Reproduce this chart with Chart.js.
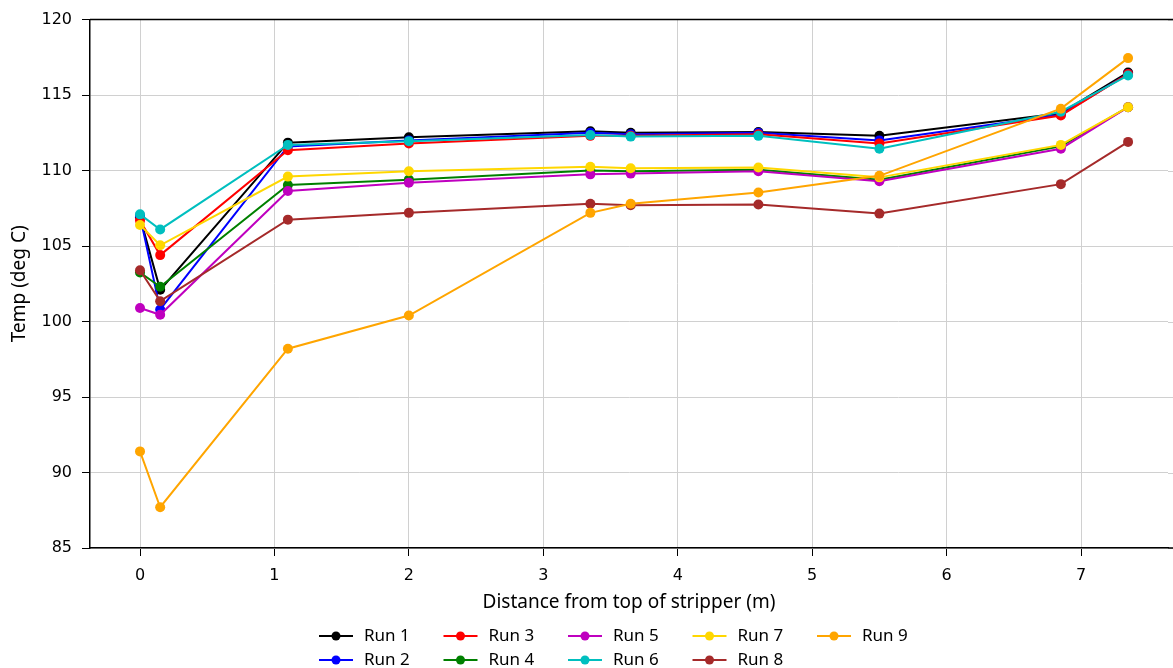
<!DOCTYPE html>
<html>
<head>
<meta charset="utf-8">
<script src="https://cdn.jsdelivr.net/npm/chart.js@4"></script>
<style>
  html, body { margin: 0; padding: 0; background: #fff; }
  #wrap { width: 1173px; height: 668px; position: relative; }
</style>
</head>
<body>
<div id="wrap"><canvas id="chart"></canvas></div>
<script>
// distance from top of stripper (m)
const distances = [0, 0.15, 1.1, 2, 3.35, 3.65, 4.6, 5.5, 6.85, 7.35];

const run1 = [106.9, 102.1, 111.85, 112.2, 112.6, 112.5, 112.55, 112.3, 113.8, 116.5];
const run2 = [107.0, 100.8, 111.6, 112.0, 112.5, 112.4, 112.5, 112.0, 113.7, 116.4];
const run3 = [106.7, 104.4, 111.35, 111.8, 112.3, 112.3, 112.4, 111.8, 113.65, 116.4];
const run4 = [103.25, 102.3, 109.05, 109.4, 110.0, 109.95, 110.05, 109.4, 111.6, 114.2];
const run5 = [100.9, 100.45, 108.65, 109.2, 109.75, 109.8, 109.95, 109.3, 111.45, 114.2];
const run6 = [107.1, 106.1, 111.7, 111.95, 112.35, 112.25, 112.3, 111.45, 113.9, 116.3];
const run7 = [106.4, 105.05, 109.6, 109.95, 110.25, 110.15, 110.2, 109.55, 111.7, 114.2];
const run8 = [103.4, 101.35, 106.75, 107.2, 107.8, 107.7, 107.75, 107.15, 109.1, 111.9];
const run9 = [91.4, 87.7, 98.2, 100.4, 107.2, 107.8, 108.55, 109.65, 114.1, 117.45];

const runNames = ["Run 1", "Run 2", "Run 3", "Run 4", "Run 5", "Run 6", "Run 7", "Run 8", "Run 9"];
const runValues = [run1, run2, run3, run4, run5, run6, run7, run8, run9];
const runColors = ["#000000", "#0000ff", "#ff0000", "#008000", "#bf00bf", "#00bfbf", "#ffd700", "#a52a2a", "#ffa500"];

const xTicks = [0, 1, 2, 3, 4, 5, 6, 7];

const datasets = runNames.map((name, i) => ({
  label: name,
  data: runValues[i].map((v, j) => ({ x: distances[j], y: v })),
  borderColor: runColors[i],
  backgroundColor: runColors[i],
  borderWidth: 2,
  pointRadius: 5,
  pointHoverRadius: 5,
  pointBorderWidth: 0,
  tension: 0,
  order: runNames.length - i
}));

// top frame line, and horizontal grid carried on to the page edge
const topBorder = {
  id: "topBorder",
  afterDatasetsDraw(chart) {
    const { ctx, chartArea } = chart;
    const y = chart.scales.y;
    ctx.save();
    ctx.strokeStyle = "#d0d0d0";
    ctx.lineWidth = 1;
    y.ticks.forEach(t => {
      const py = Math.round(y.getPixelForValue(t.value)) + 0.5;
      ctx.beginPath();
      ctx.moveTo(chartArea.right, py);
      ctx.lineTo(chart.width, py);
      ctx.stroke();
    });
    ctx.strokeStyle = "#000";
    ctx.lineWidth = 1.5;
    ctx.beginPath();
    ctx.moveTo(chartArea.left, chartArea.top);
    ctx.lineTo(chart.width, chartArea.top);
    ctx.moveTo(chartArea.right, chartArea.bottom);
    ctx.lineTo(chart.width, chartArea.bottom);
    ctx.stroke();
    ctx.restore();
  }
};

// legend laid out column by column, two rows
const columnLegend = {
  id: "columnLegend",
  afterDraw(chart) {
    const ctx = chart.ctx;
    const startX = 319, colW = 124.5, rowY = [636, 660];
    ctx.save();
    ctx.font = "17px 'Noto Sans'";
    ctx.textBaseline = "middle";
    runNames.forEach((name, i) => {
      const col = Math.floor(i / 2), row = i % 2;
      const x = startX + col * colW, y = rowY[row];
      ctx.strokeStyle = runColors[i];
      ctx.fillStyle = runColors[i];
      ctx.lineWidth = 2;
      ctx.beginPath();
      ctx.moveTo(x, y);
      ctx.lineTo(x + 34, y);
      ctx.stroke();
      ctx.beginPath();
      ctx.arc(x + 17, y, 4.5, 0, Math.PI * 2);
      ctx.fill();
      ctx.fillStyle = "#000";
      ctx.fillText(name, x + 45, y);
    });
    ctx.restore();
  }
};

new Chart(document.getElementById("chart"), {
  type: "line",
  data: { datasets },
  options: {
    responsive: true,
    maintainAspectRatio: false,
    animation: false,
    layout: { padding: { top: 18, right: 0, bottom: 54, left: 0 } },
    plugins: {
      legend: { display: false },
      tooltip: { enabled: false }
    },
    scales: {
      x: {
        type: "linear",
        min: -0.372,
        max: 7.647,
        afterBuildTicks: s => { s.ticks = xTicks.map(v => ({ value: v })); },
        afterFit: s => { s.height = 66; },
        grid: { color: "#d0d0d0", lineWidth: 1, tickColor: "#000", tickLength: 8 },
        border: { color: "#000", width: 1.5 },
        ticks: { color: "#000", font: { family: "DejaVu Sans", size: 16 }, padding: 10, maxRotation: 0 },
        title: {
          display: true,
          text: "Distance from top of stripper (m)",
          color: "#000",
          font: { family: "Noto Sans", size: 19 },
          padding: { top: 0, bottom: 0.5 }
        }
      },
      y: {
        min: 85,
        max: 120,
        afterFit: s => { s.width = 90; },
        grid: { color: "#d0d0d0", lineWidth: 1, tickColor: "#000", tickLength: 8 },
        border: { color: "#000", width: 1.5 },
        ticks: { stepSize: 5, color: "#000", font: { family: "DejaVu Sans", size: 16 }, padding: 10 },
        title: {
          display: true,
          text: "Temp (deg C)",
          color: "#000",
          font: { family: "Noto Sans", size: 19 },
          padding: { top: 8.5, bottom: 0 }
        }
      }
    }
  },
  plugins: [topBorder, columnLegend]
});
</script>
</body>
</html>
